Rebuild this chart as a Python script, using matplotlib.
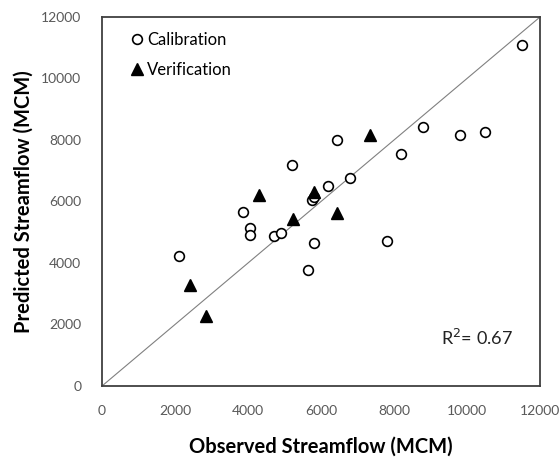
import numpy as np
import matplotlib
matplotlib.use("Agg")
import matplotlib.pyplot as plt

# data (MCM)
cal_obs = [11500, 8800, 9800, 10500, 8200, 6450, 6800, 6200, 5750, 5800,
           5200, 3870, 4050, 4050, 4700, 4900, 5800, 5650, 2120, 7820]
cal_pred = [11100, 8430, 8150, 8250, 7550, 8000, 6780, 6500, 6050, 6150,
            7200, 5650, 5150, 4900, 4880, 4970, 4640, 3770, 4230, 4720]
ver_obs = [4300, 7350, 5800, 5220, 6450, 2410, 2840]
ver_pred = [6200, 8150, 6320, 5420, 5640, 3280, 2290]
ticks = [0, 2000, 4000, 6000, 8000, 10000, 12000]
r2_text = "R$^2$= 0.67"

plt.rcParams['font.family'] = ['Lato', 'DejaVu Sans']

fig = plt.figure(figsize=(5.59, 4.57), dpi=100)
ax = fig.add_axes([0.1825, 0.1554, 0.7835, 0.8074])

ax.plot([0, 12000], [0, 12000], color="#808080", lw=0.8, zorder=1)
ax.plot(cal_obs, cal_pred, "o", ms=7, mfc="white", mec="black", mew=1.2,
        label="Calibration", zorder=3)
ax.plot(ver_obs, ver_pred, "^", ms=9, color="black", label="Verification", zorder=3)

ax.set_xlim(0, 12000)
ax.set_ylim(0, 12000)
ax.set_xticks(ticks)
ax.set_yticks(ticks)
ax.tick_params(length=0, labelsize=10, labelcolor="#595959")
ax.tick_params(axis="x", pad=14)
ax.tick_params(axis="y", pad=15)
for s in ax.spines.values():
    s.set_color("#404040")
    s.set_linewidth(1.3)

ax.set_xlabel("Observed Streamflow (MCM)", fontsize=14.5, fontweight="bold")
ax.set_ylabel("Predicted Streamflow (MCM)", fontsize=14.5, fontweight="bold")
ax.xaxis.set_label_coords(0.5, -0.138)
ax.yaxis.set_label_coords(-0.155, 0.5)

leg = ax.legend(loc="upper left", bbox_to_anchor=(0.03, 0.995), frameon=False,
                fontsize=12, handletextpad=0.1, handlelength=1.0,
                labelspacing=0.8, borderaxespad=0.4)

ax.text(0.856, 0.13, r2_text, transform=ax.transAxes, fontsize=13,
        ha="center", va="center", color="#222222")

fig.savefig("out.png", dpi=100)
